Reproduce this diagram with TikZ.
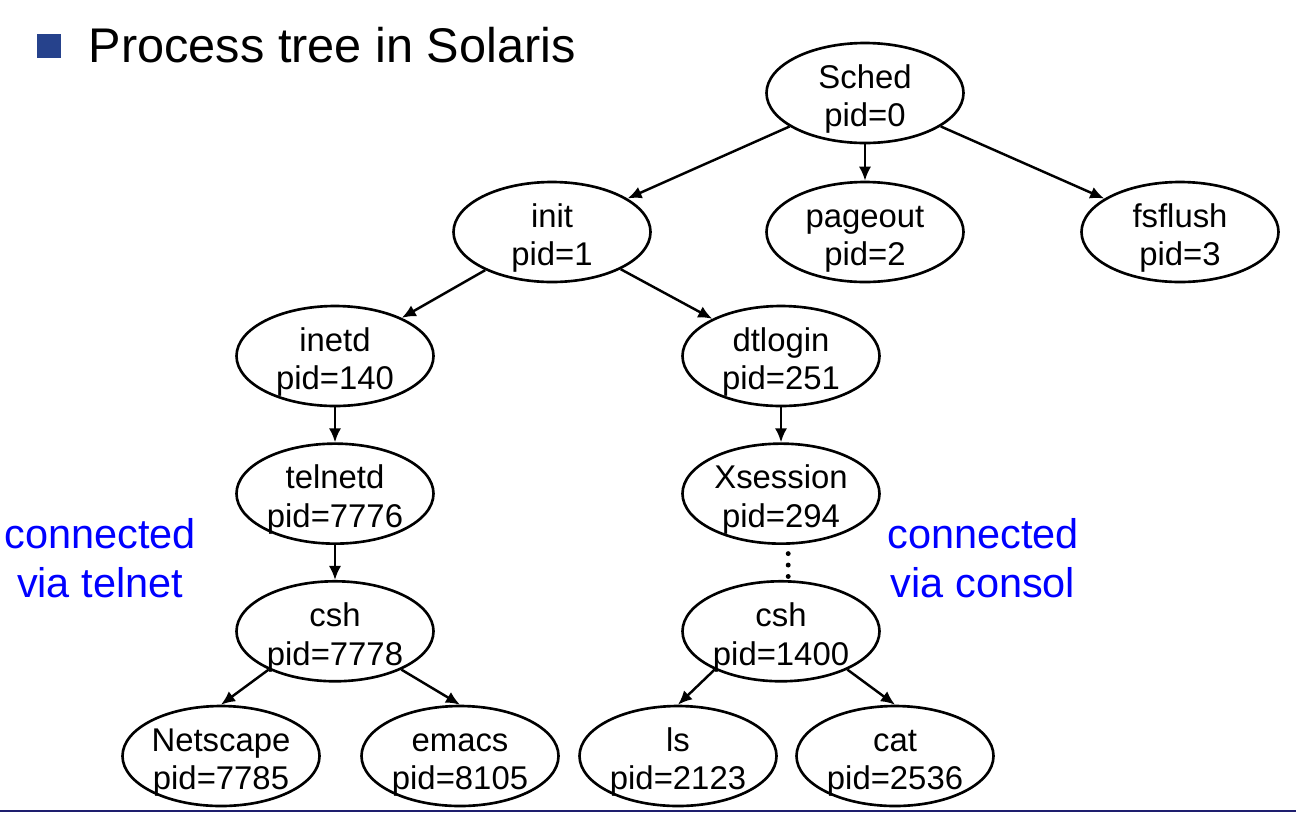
\documentclass[tikz,border=0pt]{standalone}
\usepackage{fontspec}
\setmainfont{Liberation Sans}
\usepackage{tikz}
\usepackage{xcolor}
\usetikzlibrary{shapes.geometric}
\usetikzlibrary{arrows.meta, positioning}

\definecolor{bulletblue}{RGB}{38,66,140}
\definecolor{rulenavy}{RGB}{30,30,110}

\begin{document}
\begin{tikzpicture}[node distance = .7cm,
		proc/.style={ellipse, draw, line width=1.5pt, minimum width=3.94cm, minimum height=2cm,
			inner sep=0pt, align=center, font=\fontsize{18.7}{22.1}\selectfont,
			text height=38.6pt, text depth=0pt},
		arr/.style={-{Latex[length=8pt,width=7pt]}, line width=1.4pt},
		note/.style={align=center, text=blue, font=\fontsize{23.6}{28}\selectfont}]
		\useasboundingbox (0,0) rectangle (25.92,-16.24);
		
		% title
		\node[fill=bulletblue, minimum size=.48cm, inner sep=0pt] (bullet) at (0.98,-0.91) {};
		\node[anchor=base west, inner sep=0pt, font=\fontsize{27.7}{32}\selectfont] (title) at (1.77,-1.24) {Process tree in Solaris};
		
		% the tree
		\node[proc] (sched) at (17.30,-1.86) {Sched\\pid=0};
		\node[proc] (init) at (11.04,-4.64) {init\\pid=1};
		\node[proc] (pageout) at (17.30,-4.64) {pageout\\pid=2};
		\node[proc] (fsflush) at (23.60,-4.64) {fsflush\\pid=3};
		\node[proc] (inetd) at (6.70,-7.12) {inetd\\pid=140};
		\node[proc] (dtlogin) at (15.62,-7.12) {dtlogin\\pid=251};
		\node[proc, below = of inetd] (telnetd) {telnetd\\pid=7776};
		\node[proc, below = of dtlogin] (xsession) {Xsession\\pid=294};
		\node[proc, below = of telnetd] (cshtel) {csh\\pid=7778};
		\node[proc, below = of xsession] (cshcon) {csh\\pid=1400};
		\node[proc] (netscape) at (4.42,-15.12) {Netscape\\pid=7785};
		\node[proc] (emacs) at (9.20,-15.12) {emacs\\pid=8105};
		\node[proc] (ls) at (13.56,-15.12) {ls\\pid=2123};
		\node[proc] (cat) at (17.90,-15.12) {cat\\pid=2536};
		
		\draw[arr] (sched) -- (init);
		\draw[arr] (sched) -- (pageout);
		\draw[arr] (sched) -- (fsflush);
		\draw[arr] (init) -- (inetd);
		\draw[arr] (init) -- (dtlogin);
		\draw[arr] (inetd) -- (telnetd);
		\draw[arr] (dtlogin) -- (xsession);
		\draw[arr] (telnetd) -- (cshtel);
		\draw[line width=2.8pt, line cap=round, dash pattern=on 0pt off 6.5pt, shorten <=5pt] (xsession.-82) -- (cshcon.82);
		\draw[arr] (cshtel.210) -- (netscape.north);
		\draw[arr] (cshtel.330) -- (emacs.north);
		\draw[arr] (cshcon.210) -- (ls.north);
		\draw[arr] (cshcon.330) -- (cat.north);
		
		% notes
		\node[note] (telnote) at (2.0,-11.16) {connected\\via telnet};
		\node[note] (connote) at (19.66,-11.16) {connected\\via consol};
		
		\draw[rulenavy, line width=0.04cm] (0,-16.22) -- (25.92,-16.22);
\end{tikzpicture}
\end{document}
